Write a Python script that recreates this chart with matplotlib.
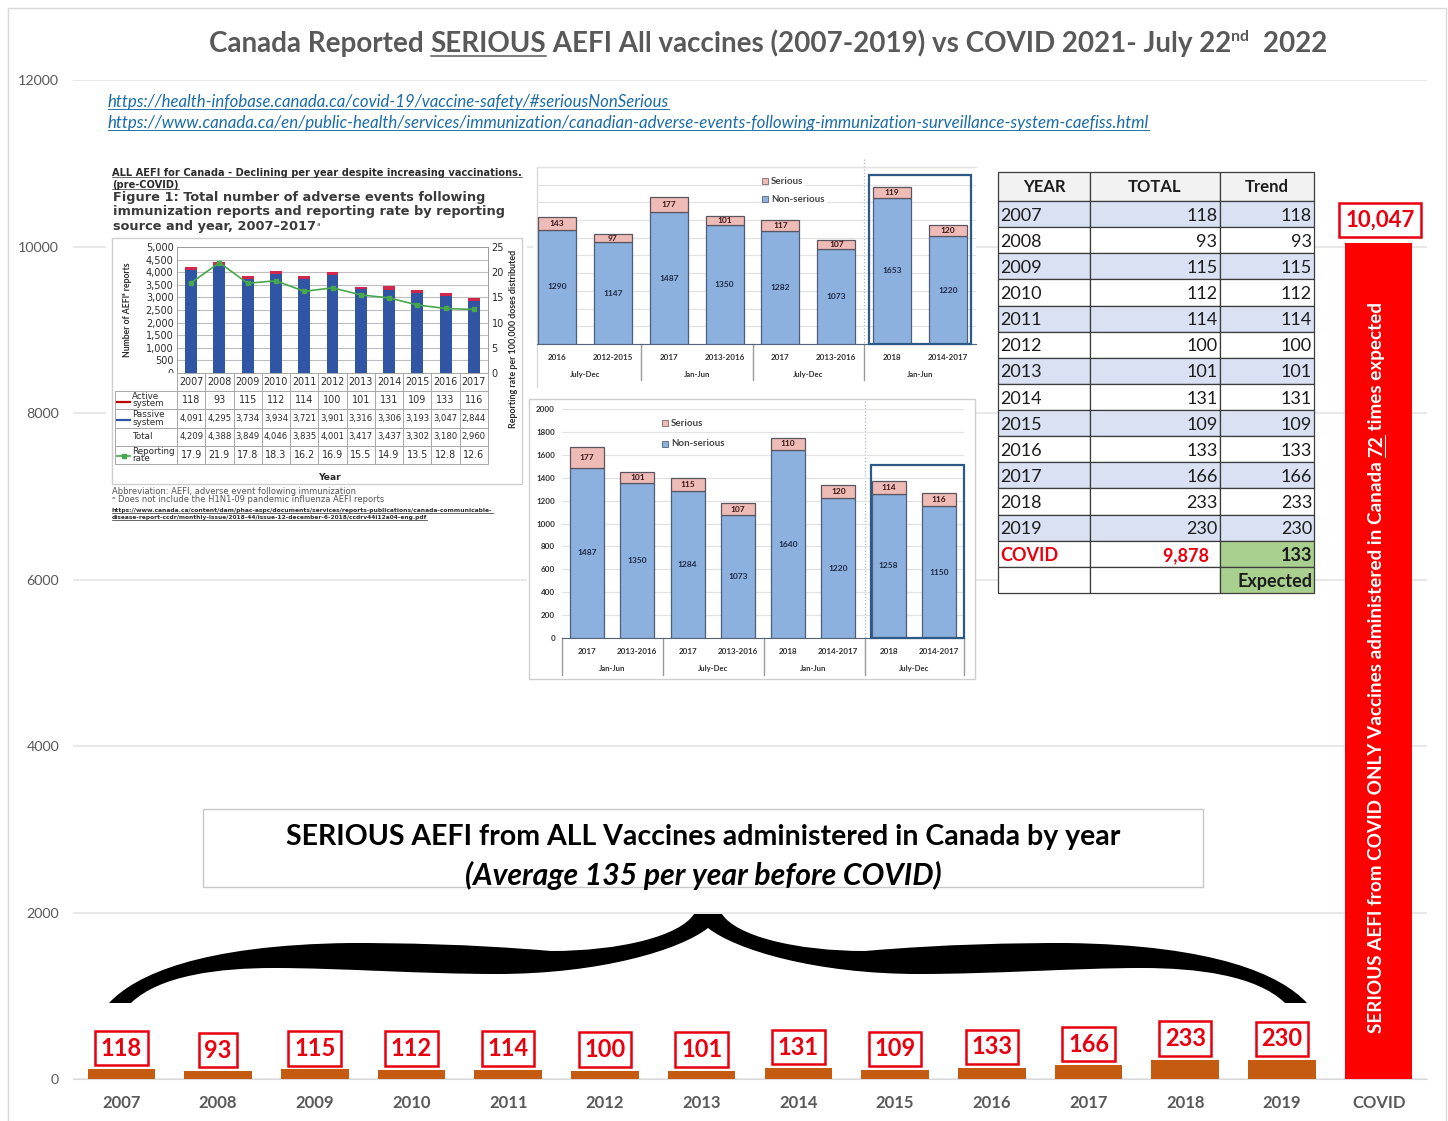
"""
Canada reported serious AEFI: yearly bars plus the pasted tables and small charts on top.
"""

import matplotlib
matplotlib.use("Agg")
import matplotlib.pyplot as plt
import numpy as np
from matplotlib.patches import PathPatch, Rectangle
from matplotlib.path import Path

W, H = 1448, 1121

# main chart
years = ["2007", "2008", "2009", "2010", "2011", "2012", "2013", "2014", "2015", "2016", "2017", "2018", "2019", "COVID"]
serious = [118, 93, 115, 112, 114, 100, 101, 131, 109, 133, 166, 233, 230, 10047]
y_ticks = [0, 2000, 4000, 6000, 8000, 10000, 12000]

# figure 1 inset
fig1_years = ["2007", "2008", "2009", "2010", "2011", "2012", "2013", "2014", "2015", "2016", "2017"]
fig1_active = [118, 93, 115, 112, 114, 100, 101, 131, 109, 133, 116]
fig1_passive = [4091, 4295, 3734, 3934, 3721, 3901, 3316, 3306, 3193, 3047, 2844]
fig1_total = [4209, 4388, 3849, 4046, 3835, 4001, 3417, 3437, 3302, 3180, 2960]
fig1_rate = [17.9, 21.9, 17.8, 18.3, 16.2, 16.9, 15.5, 14.9, 13.5, 12.8, 12.6]

# stacked insets
top_labels = ["2016", "2012-2015", "2017", "2013-2016", "2017", "2013-2016", "2018", "2014-2017"]
top_groups = ["July-Dec", "Jan-Jun", "July-Dec", "Jan-Jun"]
top_serious = [143, 97, 177, 101, 117, 107, 119, 120]
top_non = [1290, 1147, 1487, 1350, 1282, 1073, 1653, 1220]

low_labels = ["2017", "2013-2016", "2017", "2013-2016", "2018", "2014-2017", "2018", "2014-2017"]
low_groups = ["Jan-Jun", "July-Dec", "Jan-Jun", "July-Dec"]
low_serious = [177, 101, 115, 107, 110, 120, 114, 116]
low_non = [1487, 1350, 1284, 1073, 1640, 1220, 1258, 1150]

# table on the right
table_years = years[:13]
table_total = serious[:13]

GREY = "#595959"
RED = "#E8000F"

plt.rcParams["font.family"] = ["Lato", "DejaVu Sans"]

fig = plt.figure(figsize=(W / 100, H / 100), dpi=100)


def inset(x0, y0, x1, y1, zorder=3):
    """Axes placed by pixel box, y measured from the top of the image."""
    return fig.add_axes((x0 / W, 1 - y1 / H, (x1 - x0) / W, (y1 - y0) / H), zorder=zorder)


def run_text(ax, x, y, runs, vertical=False, **kw):
    """Lay out text pieces one after another, underlining those flagged True."""
    renderer = fig.canvas.get_renderer()
    fs = kw.get("fontsize", 10)
    drop = fs * 0.19
    lw = max(0.5, fs * 0.055)
    for txt, under in runs:
        t = ax.text(x, y, txt, rotation=90 if vertical else 0, rotation_mode="anchor",
                    ha="left", va="baseline", **kw)
        box = t.get_window_extent(renderer)
        if vertical:
            if under:
                ax.plot([x + drop, x + drop], [y, y - box.height], color=kw.get("color"), lw=lw)
            y -= box.height
        else:
            if under:
                ax.plot([x, x + box.width], [y + drop, y + drop], color=kw.get("color"), lw=lw)
            x += box.width
    return x, y


# main chart
ax = inset(73, 80, 1427, 1079, zorder=1)
colors = ["#C55A11"] * 13 + ["#FF0000"]
xpos = np.arange(len(years))
ax.bar(xpos, serious, width=0.7, color=colors, zorder=3)
ax.set_xlim(-0.5, 13.5)
ax.set_ylim(0, 12000)
ax.set_yticks(y_ticks, [str(v) for v in y_ticks], fontsize=10.3, color=GREY)
ax.set_xticks(xpos, years, fontsize=12, fontweight="bold", color=GREY)
ax.tick_params(axis="y", length=0, pad=10)
ax.tick_params(axis="x", length=0, pad=11.5)
ax.grid(axis="y", color="#E4E4E4", lw=1.2)
ax.set_axisbelow(True)
for s in ["top", "left", "right"]:
    ax.spines[s].set_visible(False)
ax.spines["bottom"].set_color("#D9D9D9")

for i, v in enumerate(serious[:13]):
    ax.annotate(f"{v}", (i, v), xytext=(0, 6.9), textcoords="offset points", ha="center", va="bottom",
                fontsize=17, fontweight="bold", color=RED, zorder=5,
                bbox=dict(boxstyle="square,pad=0.24", fc="white", ec=RED, lw=1.8))
ax.annotate(f"{serious[13]:,}", (13, serious[13]), xytext=(1, 8.8), textcoords="offset points", ha="center",
            va="bottom", fontsize=16, fontweight="bold", color=RED, zorder=5,
            bbox=dict(boxstyle="square,pad=0.28", fc="white", ec=RED, lw=1.8))

# overlay in image pixels for all the pasted pieces
px = inset(0, 0, W, H, zorder=2)
px.set_xlim(0, W)
px.set_ylim(H, 0)
px.axis("off")
px.patch.set_alpha(0)

px.plot([8, 8, 1446, 1446], [1121, 8, 8, 1121], color="#D9D9D9", lw=1)

# white backgrounds of the pasted pictures
for x0, y0, x1, y1 in [(106, 160, 527, 525), (533, 162, 976, 392), (527, 397, 976, 681), (998, 172, 1314, 593)]:
    px.add_patch(Rectangle((x0, y0), x1 - x0, y1 - y0, fc="white", ec="none", zorder=1))

# title
title_end, _ = run_text(px, 209, 52, [("Canada Reported ", False), ("SERIOUS", True),
                                      (" AEFI All vaccines (2007-2019) vs COVID 2021- July 22", False)],
                        fontsize=20, fontweight="bold", color=GREY)
px.text(title_end, 41, "nd", fontsize=11.5, fontweight="bold", color=GREY)
px.text(1327, 52, "2022", fontsize=20, fontweight="bold", color=GREY, ha="right")

# links
LINK = "#1B6CA8"
run_text(px, 108, 107, [("https://health-infobase.canada.ca/covid-19/vaccine-safety/#seriousNonSerious", True)],
         fontsize=12.05, style="italic", color=LINK)
run_text(px, 108, 128, [("https://www.canada.ca/en/public-health/services/immunization/canadian-adverse-events-following-immunization-surveillance-system-caefiss.html", True)],
         fontsize=12.2, style="italic", color=LINK)

# middle caption box and brace
px.add_patch(Rectangle((203, 809), 1000, 78, fc="white", ec="#C8C8C8", lw=1, zorder=2))
px.text(703, 837, "SERIOUS AEFI from ALL Vaccines administered in Canada by year", ha="center", va="center",
        fontsize=20.5, fontweight="bold", color="black", zorder=3)
px.text(703, 875, "(Average 135 per year before COVID)", ha="center", va="center",
        fontsize=21.7, fontweight="bold", style="italic", color="black", zorder=3)

left = [(708, 914), (694, 914), (680, 936), (620, 951), (551, 951), (470, 944), (400, 943), (350, 943),
        (200, 945), (135, 975), (109, 1003), (131, 1003), (160, 975), (220, 968), (274, 968),
        (340, 968), (420, 974), (497, 974), (600, 974), (680, 950), (708, 928)]
codes = [Path.MOVETO, Path.LINETO, Path.CURVE4, Path.CURVE4, Path.CURVE4, Path.CURVE4, Path.CURVE4, Path.CURVE4,
         Path.CURVE4, Path.CURVE4, Path.CURVE4, Path.LINETO, Path.CURVE4, Path.CURVE4, Path.CURVE4,
         Path.CURVE4, Path.CURVE4, Path.CURVE4, Path.CURVE4, Path.CURVE4, Path.CURVE4]
px.add_patch(PathPatch(Path(left + [left[0]], codes + [Path.LINETO]), fc="black", ec="none", zorder=4))
right = [(1416 - a, b) for a, b in left]
px.add_patch(PathPatch(Path(right + [right[0]], codes + [Path.LINETO]), fc="black", ec="none", zorder=4))

# text inside the red bar
run_text(px, 1382, 1033, [("SERIOUS AEFI from COVID ONLY Vaccines administered in Canada ", False), ("72", True),
                          (" times expected", False)],
         vertical=True, fontsize=13.6, fontweight="bold", color="white", zorder=6)

# figure 1 text
fig_font = ["DejaVu Sans"]
DARK = "#2B2B2B"
run_text(px, 112, 176, [("ALL AEFI for Canada - Declining per year despite increasing vaccinations.", True)],
         fontsize=7.1, fontweight="bold", color=DARK, family=fig_font, zorder=3)
run_text(px, 112, 188, [("(pre-COVID)", True)], fontsize=7.1, fontweight="bold", color=DARK, family=fig_font, zorder=3)
for i, line in enumerate(["Figure 1: Total number of adverse events following",
                          "immunization reports and reporting rate by reporting",
                          "source and year, 2007\u20132017"]):
    px.text(113, 201 + 14.3 * i, line, fontsize=9.3, fontweight="bold", color="#3A3A3A", family=fig_font, zorder=3)
px.text(317, 226, "a", fontsize=4, color=DARK, family=fig_font, zorder=3)
px.add_patch(Rectangle((112, 238), 410, 246, fc="white", ec="#CFCFCF", lw=1, zorder=2))
px.text(112, 494, "Abbreviation: AEFI, adverse event following immunization", fontsize=6, color="#555555",
        family=fig_font, zorder=3)
px.text(112, 502, "\u1d43 Does not include the H1N1-09 pandemic influenza AEFI reports", fontsize=6, color="#555555",
        family=fig_font, zorder=3)
run_text(px, 112, 512, [("https://www.canada.ca/content/dam/phac-aspc/documents/services/reports-publications/canada-communicable-", True)],
         fontsize=4.35, fontweight="bold", color=DARK, family=fig_font, zorder=3)
run_text(px, 112, 519.5, [("disease-report-ccdr/monthly-issue/2018-44/issue-12-december-6-2018/ccdrv44i12a04-eng.pdf", True)],
         fontsize=4.25, fontweight="bold", color=DARK, family=fig_font, zorder=3)

# figure 1 chart
a1 = inset(177, 247, 488, 373, zorder=3)
a1.patch.set_alpha(0)
pos1 = np.arange(11)
a1.bar(pos1, fig1_passive, width=0.42, color="#2F55A4", zorder=3)
a1.bar(pos1, fig1_active, width=0.42, bottom=fig1_passive, color="#D3264C", zorder=3)
a1.set_xlim(-0.5, 10.5)
a1.set_ylim(0, 5000)
a1.set_xticks([])
a1.set_yticks(np.arange(0, 5001, 500), [f"{v:,}" for v in np.arange(0, 5001, 500)], fontsize=7,
              color=DARK, family=fig_font)
a1.tick_params(length=0, pad=2.5)
a1.grid(axis="y", color="#BDBDBD", lw=0.8)
a1.set_axisbelow(True)
for s in a1.spines.values():
    s.set_color("#9A9A9A")
    s.set_linewidth(0.7)
a1.set_ylabel("Number of AEFI\u1d43 reports", fontsize=6.2, fontweight="bold", color=DARK, labelpad=10)
a1b = a1.twinx()
a1b.plot(pos1, fig1_rate, color="#47A84B", lw=1.2, marker="s", ms=2.5, zorder=5)
a1b.set_ylim(0, 25)
a1b.set_yticks(range(0, 26, 5), [str(v) for v in range(0, 26, 5)], fontsize=7, color=DARK, family=fig_font)
a1b.tick_params(length=0, pad=2.5)
for s in a1b.spines.values():
    s.set_visible(False)
px.text(513, 339, "Reporting rate per 100,000 doses distributed", rotation=90, ha="center", va="center",
        fontsize=6.4, fontweight="bold", color=DARK, zorder=3)

# figure 1 table
t_ax = inset(115, 373, 488, 464, zorder=3)
t_ax.axis("off")
rows = [[""] + fig1_years,
        ["Active\nsystem"] + [str(v) for v in fig1_active],
        ["Passive\nsystem"] + [f"{v:,}" for v in fig1_passive],
        ["Total"] + [f"{v:,}" for v in fig1_total],
        ["Reporting\nrate"] + [str(v) for v in fig1_rate]]
col_w = [62 / 373] + [28.27 / 373] * 11
tb = t_ax.table(cellText=rows, colWidths=col_w, bbox=(0, 0, 1, 1), cellLoc="center")
tb.auto_set_font_size(False)
for (r, c), cell in tb.get_celld().items():
    cell.set_edgecolor("#A8A8A8")
    cell.set_linewidth(0.7)
    cell.PAD = 0.02
    txt = cell.get_text()
    txt.set_family(fig_font)
    txt.set_color(DARK)
    txt.set_fontsize(6.1 if 2 <= r <= 3 else 6.9)
    if c == 0:
        txt.set_ha("left")
        cell.PAD = 0.28
        txt.set_fontsize(6.3)
        txt.set_linespacing(0.75)
        if r == 0:
            cell.set_edgecolor("none")

# legend keys of that table sit above its cells
keys = inset(0, 0, W, H, zorder=3.5)
keys.set_xlim(0, W)
keys.set_ylim(H, 0)
keys.axis("off")
keys.patch.set_alpha(0)
for yy, col in [(402, "#C00000"), (420, "#2F55A4")]:
    keys.plot([117, 130], [yy, yy], color=col, lw=1.6)
keys.plot([117, 130], [456, 456], color="#47A84B", lw=1.2)
keys.plot([123.5], [456], marker="s", ms=2.5, color="#47A84B")
px.text(329, 477, "Year", ha="center", va="center", fontsize=6.6, fontweight="bold", color=DARK,
        family=fig_font, zorder=3)


def stacked(box, non, ser, labels, groups, grid_x, rule_x, edge_y, frame, legend_xy, show_ticks, xlim, group_y):
    """Small stacked Serious / Non-serious chart pasted over the main one."""
    x0, y0, x1, y1 = box
    a = inset(x0, y0, x1, y1, zorder=4)
    a.patch.set_alpha(0)
    pos = np.arange(len(non))
    a.bar(pos, non, width=0.68, color="#8DB1DF", edgecolor="#4D5F78", lw=0.9, zorder=3)
    a.bar(pos, ser, bottom=non, width=0.68, color="#EFBBB6", edgecolor="#5B5560", lw=0.9, zorder=3)
    for i in pos:
        a.text(i, non[i] * 0.5, str(non[i]), ha="center", va="center", fontsize=6, fontweight="bold",
               color="#1F2A44", zorder=4)
        a.text(i, non[i] + ser[i] / 2, str(ser[i]), ha="center", va="center", fontsize=6, fontweight="bold",
               color="#3A1518", zorder=4)
    a.set_xlim(*xlim)
    a.set_ylim(0, 2000)
    a.set_xticks(pos, labels, fontsize=5.8, fontweight="bold", color="#303030")
    a.tick_params(axis="x", length=0, pad=7)
    if show_ticks:
        a.set_yticks(range(0, 2001, 200), [str(v) for v in range(0, 2001, 200)], fontsize=5.8,
                     fontweight="bold", color="#303030")
        a.tick_params(axis="y", length=0, pad=5)
    else:
        a.set_yticks(range(0, 2001, 200), [])
        a.tick_params(axis="y", length=0)
    a.grid(axis="y", color="#E2E2E2", lw=0.9)
    a.set_axisbelow(True)
    for s in ["top", "left", "right"]:
        a.spines[s].set_visible(False)
    a.spines["bottom"].set_color("#566479")

    # group rows under the chart
    for i, g in enumerate(groups):
        a.text(2 * i + 0.5, group_y, g, transform=a.get_xaxis_transform(), ha="center",
               va="center", fontsize=5.6, fontweight="bold", color="#303030")
    for xx in rule_x:
        px.plot([xx, xx], [y1, edge_y], color="#9A9A9A", lw=1, zorder=3)
    px.plot([grid_x, grid_x], [y0 - 8, y1], color="#AEB4C4", lw=0.9, ls=":", zorder=3)
    a.add_patch(Rectangle((frame[0], frame[1]), frame[2] - frame[0], frame[3] - frame[1],
                          transform=a.transData, fc="none", ec="#2D5A85", lw=1.6, zorder=5, clip_on=False))

    (lx, ly1, ly2, lsize) = legend_xy
    a.text(lx + 6, ly1, "Serious", transform=px.transData, va="center", fontsize=lsize, fontweight="bold",
           color="#444444", zorder=6, bbox=dict(fc="white", ec="none", pad=1.5))
    a.text(lx + 6, ly2, "Non-serious", transform=px.transData, va="center", fontsize=lsize, fontweight="bold",
           color="#444444", zorder=6, bbox=dict(fc="white", ec="none", pad=1.5))
    a.plot([lx], [ly1], marker="s", ms=5, mfc="#EFBBB6", mec="#7A6A70", mew=0.6, transform=px.transData, zorder=7,
           clip_on=False)
    a.plot([lx], [ly2], marker="s", ms=5, mfc="#8DB1DF", mec="#566479", mew=0.6, transform=px.transData, zorder=7,
           clip_on=False)
    return a


stacked((537, 167, 976, 344), top_non, top_serious, top_labels, top_groups, 864, [641, 753, 864], 380,
        (5.58, 0, 7.41, 1910), (765, 181, 199, 7), False, (-0.357, 7.5), -0.17)
px.plot([537, 537], [167, 387], color="#D9D9D9", lw=1, zorder=3)
px.plot([537, 976], [167, 167], color="#E5E5E5", lw=1, zorder=3)

px.add_patch(Rectangle((529, 399), 446, 280, fc="white", ec="#CFCFCF", lw=1, zorder=2))
stacked((562, 409, 964, 638), low_non, low_serious, low_labels, low_groups, 865, [562, 663, 764, 865, 964], 675,
        (5.64, 0, 7.5, 1515), (665, 423, 444, 7), True, (-0.5, 7.5), -0.135)

# right hand table
tab_ax = inset(998, 172, 1314, 593, zorder=5)
tab_ax.axis("off")
cells = [["YEAR", "TOTAL", "Trend"]]
cells += [[y, str(v), str(v)] for y, v in zip(table_years, table_total)]
cells += [["COVID", "9,878  ", "133"], ["", "", "Expected"]]
tab = tab_ax.table(cellText=cells, colWidths=[92 / 316, 130 / 316, 94 / 316], bbox=(0, 0, 1, 1), cellLoc="right")
tab.auto_set_font_size(False)
for (r, c), cell in tab.get_celld().items():
    txt = cell.get_text()
    txt.set_fontsize(12 if r == 0 else 13)
    txt.set_color("#1C1C1C")
    cell.set_edgecolor("#3C3C3C")
    cell.set_linewidth(0.9)
    cell.PAD = 0.02
    cell.set_height(29 / 421 if r == 0 else 26.1 / 421)
    if r == 0:
        cell.set_facecolor("#F2F2F2")
        txt.set_ha("center")
        txt.set_fontweight("bold")
    else:
        txt.set_va("center_baseline")
    if 1 <= r <= 13 and r % 2 == 1:
        cell.set_facecolor("#D9E1F2")
    if c == 0 and r > 0:
        txt.set_ha("left")
    if r == 14 and c < 2:
        txt.set_color(RED)
        txt.set_fontweight("bold")
    if r >= 14 and c == 2:
        cell.set_facecolor("#A9D08E")
        txt.set_fontweight("bold")

fig.savefig("out.png", dpi=100)
